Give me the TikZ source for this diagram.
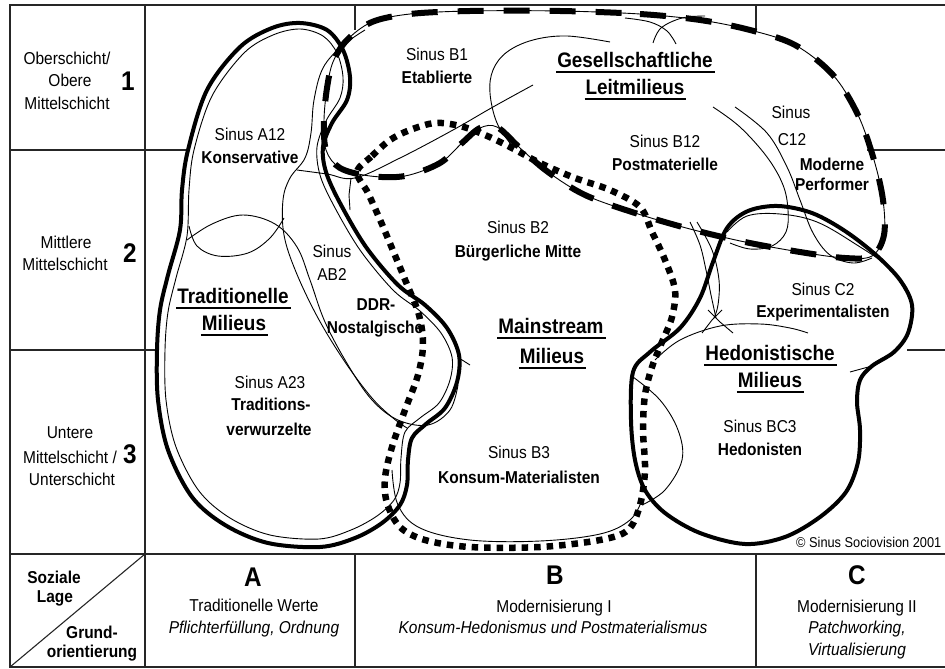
\documentclass[tikz,border=0pt]{standalone}
\usepackage{fontspec}
\setmainfont{Liberation Sans}[FakeStretch=0.9]
\usetikzlibrary{positioning}
\newcommand{\milieuunder}[1]{\setbox0=\hbox{#1}\rlap{\kern-1pt\rule[-5.5pt]{\dimexpr\wd0+3pt\relax}{2pt}}\box0}

\begin{document}
\begin{tikzpicture}[x=1pt,y=-1pt]
\tikzset{gridline/.style={line width=1.1pt,black!85}}

\tikzset{thickline/.style={line width=4pt,line join=round}}

\tikzset{thinline/.style={line width=0.9pt}}

\tikzset{leitdash/.style={line width=6pt,dash pattern=on 26pt off 20pt}}

\tikzset{mainstreamdot/.style={line width=6.5pt,dash pattern=on 6.5pt off 6pt}}

\tikzset{sinus/.style={
anchor=base,inner sep=0pt,
font=\fontsize{17.2}{20}\selectfont}}

\tikzset{milieu/.style={
sinus,
font=\bfseries\fontsize{17.2}{20}\selectfont}}

\tikzset{ziel/.style={
sinus,
font=\itshape\fontsize{17.2}{20}\selectfont}}

\tikzset{gruppe/.style={
sinus,
font=\bfseries\fontsize{21}{24}\selectfont}}

\tikzset{schicht/.style={
sinus,
font=\bfseries\fontsize{27}{30}\selectfont}}

\useasboundingbox (0,0) rectangle (945,669);

\draw[gridline]
(10,5) coordinate (A1)
rectangle
(960,667) coordinate (B2);

\draw[gridline] (145,5) -- (145,667);
\draw[gridline] (10,150) -- (188,150) (867,150) -- (960,150);
\draw[gridline] (10,350) -- (158,350) (907,350) -- (960,350);
\draw[gridline] (10,554) -- (960,554);
\draw[gridline] (355,5) -- (355,30) (355,554) -- (355,667);
\draw[gridline] (756,5) -- (756,30) (756,554) -- (756,667);
\draw[gridline] (10,667) -- (145,554);

\draw[thinline] plot[smooth cycle,tension=0.55] coordinates {
(300,29) (323,36) (337,53) (343,77) (340,98) (326,121) (317,147) (320,175)
(334,206) (360,250) (393,290) (420,311) (441,333) (452,357) (450,380)
(439,403) (420,418) (405,432) (401,458) (400,483) (394,500) (377,516)
(351,530) (319,539) (270,535) (230,518) (199,491) (176,447) (166,400)
(165,350) (168,312) (176,278) (187,236) (189,190) (194,150) (212,96)
(244,53) (273,35)};
\draw[thinline] plot[smooth,tension=0.6] coordinates {
(365,30) (342,46) (323,68) (314,100) (311,133) (305,158) (290,178) (283,200)
(284,235) (296,272) (318,318) (345,362) (372,398) (393,418) (407,428)};
\draw[thinline] plot[smooth,tension=0.6] coordinates {
(189,226) (197,246) (218,256) (248,253) (270,238) (284,218)};
\draw[thinline] plot[smooth,tension=0.6] coordinates {
(187,240) (212,224) (243,215) (275,224) (297,247) (310,280) (325,322)
(348,365) (372,400) (398,420) (428,425) (450,410) (458,385)};
\draw[thinline] plot[smooth,tension=0.6] coordinates {
(297,170) (327,174) (355,178) (400,158) (453,130) (493,107) (533,85)};
\draw[thinline] (351,178) -- (349,195) -- (350,210);
\draw[thinline] plot[smooth,tension=0.6] coordinates {
(513,147) (497,123) (490,93) (493,70) (507,52) (533,40) (567,36) (610,42)};
\draw[thinline] plot[smooth,tension=0.6] coordinates {
(653,43) (661,28) (682,18) (705,16)};
\draw[thinline] plot[smooth,tension=0.6] coordinates {
(676,44) (667,31) (650,22) (625,18)};
\draw[thinline] plot[smooth,tension=0.6] coordinates {
(713,107) (740,127) (767,157) (783,185) (788,210) (786,232) (772,246)
(750,249) (730,243)};
\draw[thinline] plot[smooth,tension=0.6] coordinates {
(735,107) (767,133) (787,167) (800,200) (813,233) (830,255) (853,263)
(872,258)};
\draw[thinline] plot[smooth,tension=0.6] coordinates {
(727,232) (747,216) (780,214) (817,222) (857,245) (890,268) (905,290)};
\draw[thinline] plot[smooth,tension=0.6] coordinates {
(690,222) (700,245) (706,270) (711,295) (716,318)};
\draw[thinline] plot[smooth,tension=0.6] coordinates {
(697,222) (712,250) (719,280) (718,305) (714,318)};
\draw[thinline] (702,333) -- (712,320) -- (722,310);
\draw[thinline] (708,310) -- (720,322) -- (733,333);
\draw[thinline] plot[smooth,tension=0.6] coordinates {
(655,360) (680,340) (720,326) (760,324) (790,328) (808,333)};
\draw[thinline] plot[smooth,tension=0.6] coordinates {
(633,377) (660,400) (678,430) (682,460) (665,490) (642,505)};
\draw[thinline] plot[smooth,tension=0.6] coordinates {
(392,470) (398,505) (420,528) (470,540) (540,541) (600,534) (630,520)
(642,500)};
\draw[thinline] (850,372) -- (872,366);
\draw[thinline] (459,358) -- (470,365);

\draw[thickline] plot[smooth cycle,tension=0.55] coordinates {
(300,23) (327,30) (343,50) (350,77) (347,100) (332,123) (323,147) (326,172)
(340,203) (366,247) (398,285) (425,305) (447,328) (459,355) (457,382)
(445,408) (426,424) (412,438) (408,460) (407,485) (400,505) (382,523)
(355,538) (320,547) (268,543) (225,525) (192,497) (168,450) (158,400)
(157,350) (160,310) (168,275) (180,230) (182,190) (188,150) (207,90)
(240,47) (272,28)};

\draw[thickline] plot[smooth cycle,tension=0.55] coordinates {
(633,372) (650,352) (680,328) (700,298) (713,262) (727,228) (748,211)
(778,206) (812,213) (845,231) (876,255) (900,280) (912,305) (908,333)
(894,352) (872,366) (860,380) (857,402) (860,430) (858,462) (846,492)
(820,517) (785,537) (745,544) (700,533) (665,513) (645,490) (635,460)
(631,420)};

\draw[thinline] plot[smooth cycle,tension=0.55] coordinates {
(560,11) (640,14) (700,20) (750,30) (795,45) (833,75) (858,115) (874,160)
(883,200) (884,235) (872,256) (845,258) (800,252) (745,242) (690,229)
(635,213) (585,195) (548,172) (520,148) (497,127) (480,128) (462,143)
(440,163) (405,176) (370,176) (340,168) (326,150) (324,120) (327,88)
(333,62) (347,40) (372,22) (410,14) (470,11)};
\draw[leitdash] plot[smooth cycle,tension=0.55] coordinates {
(560,11) (640,14) (700,20) (750,30) (795,45) (833,75) (858,115) (874,160)
(883,200) (884,235) (872,256) (845,258) (800,252) (745,242) (690,229)
(635,213) (585,195) (548,172) (520,148) (497,127) (480,128) (462,143)
(440,163) (405,176) (370,176) (340,168) (326,150) (324,120) (327,88)
(333,62) (347,40) (372,22) (410,14) (470,11)};

\draw[mainstreamdot] plot[smooth cycle,tension=0.55] coordinates {
(357,172) (372,156) (390,140) (410,130) (435,123) (460,126) (485,135)
(510,147) (540,163) (575,178) (610,190) (640,207) (652,232) (665,260)
(675,290) (672,317) (662,342) (652,367) (645,395) (643,430) (645,470)
(640,505) (628,530) (600,540) (540,547) (470,547) (425,540) (400,527)
(387,503) (385,478) (392,447) (405,410) (418,375) (423,345) (419,315)
(406,282) (394,253) (381,222) (368,193)};

\draw
(67,65) node[sinus,name=lage1a] {Oberschicht/}
(70,87) node[sinus,name=lage1b] {Obere}
(67,110) node[sinus,name=lage1c] {Mittelschicht}
(128,90) node[schicht,name=lage1] {1};

\draw
(66,248) node[sinus,name=lage2a] {Mittlere}
(65,270) node[sinus,name=lage2b] {Mittelschicht}
(130,262) node[schicht,name=lage2] {2};

\draw
(70,438) node[sinus,name=lage3a] {Untere}
(70,463) node[sinus,name=lage3b] {Mittelschicht /}
(72,485) node[sinus,name=lage3c] {Unterschicht}
(130,463) node[schicht,name=lage3] {3};

\draw
(250,140) node[sinus,name=sA12] {Sinus A12}
(250,163) node[milieu,name=mA12] {Konservative};

\draw
(437,60) node[sinus,name=sB1] {Sinus B1}
(437,83) node[milieu,name=mB1] {Etablierte};

\draw
(635,67) node[gruppe,name=gLeit1] {\milieuunder{Gesellschaftliche}}
(635,95) node[gruppe,name=gLeit2] {\milieuunder{Leitmilieus}};

\draw
(665,147) node[sinus,name=sB12] {Sinus B12}
(665,170) node[milieu,name=mB12] {Postmaterielle};

\draw
(791,118) node[sinus,name=sC12a] {Sinus}
(792,145) node[sinus,name=sC12b] {C12}
(832,170) node[milieu,name=mC12a] {Moderne}
(832,190) node[milieu,name=mC12b] {Performer};

\draw
(518,233) node[sinus,name=sB2] {Sinus B2}
(518,257) node[milieu,name=mB2] {Bürgerliche Mitte};

\draw
(332,257) node[sinus,name=sAB2a] {Sinus}
(332,280) node[sinus,name=sAB2b] {AB2}
(376,310) node[milieu,name=mAB2a] {DDR-}
(375,333) node[milieu,name=mAB2b] {Nostalgische};

\draw
(233,303) node[gruppe,name=gTrad1] {\milieuunder{Traditionelle}}
(234,330) node[gruppe,name=gTrad2] {\milieuunder{Milieus}};

\draw
(270,388) node[sinus,name=sA23] {Sinus A23}
(271,410) node[milieu,name=mA23a] {Traditions-}
(269,435) node[milieu,name=mA23b] {verwurzelte};

\draw
(551,333) node[gruppe,name=gMain1] {\milieuunder{Mainstream}}
(552,363) node[gruppe,name=gMain2] {\milieuunder{Milieus}};

\draw
(519,458) node[sinus,name=sB3] {Sinus B3}
(519,483) node[milieu,name=mB3] {Konsum-Materialisten};

\draw
(823,295) node[sinus,name=sC2] {Sinus C2}
(823,317) node[milieu,name=mC2] {Experimentalisten};

\draw
(770,360) node[gruppe,name=gHed1] {\milieuunder{Hedonistische}}
(770,387) node[gruppe,name=gHed2] {\milieuunder{Milieus}};

\draw
(760,432) node[sinus,name=sBC3] {Sinus BC3}
(760,455) node[milieu,name=mBC3] {Hedonisten};

\draw
(796,547) node[sinus,anchor=base west,font=\fontsize{14.2}{16}\selectfont,name=copy] {© Sinus Sociovision 2001};

\draw
(54,583) node[milieu,name=soziale] {Soziale}
(55,602) node[milieu,name=lage] {Lage}
(92,638) node[milieu,name=grund] {Grund-}
(92,657) node[milieu,name=orient] {orientierung};

\draw
(253,586) node[schicht,name=colA] {A}
(254,611) node[sinus,name=wertA] {Traditionelle Werte}
(254,633) node[ziel,name=zielA] {Pflichterfüllung, Ordnung};

\draw
(555,584) node[schicht,name=colB] {B}
(554,612) node[sinus,name=wertB] {Modernisierung I}
(553,633) node[ziel,name=zielB] {Konsum-Hedonismus und Postmaterialismus};

\draw
(857,584) node[schicht,name=colC] {C}
(857,612) node[sinus,name=wertC] {Modernisierung II}
(857,633) node[ziel,name=zielC1] {Patchworking,}
(857,655) node[ziel,name=zielC2] {Virtualisierung};

\end{tikzpicture}
\end{document}
